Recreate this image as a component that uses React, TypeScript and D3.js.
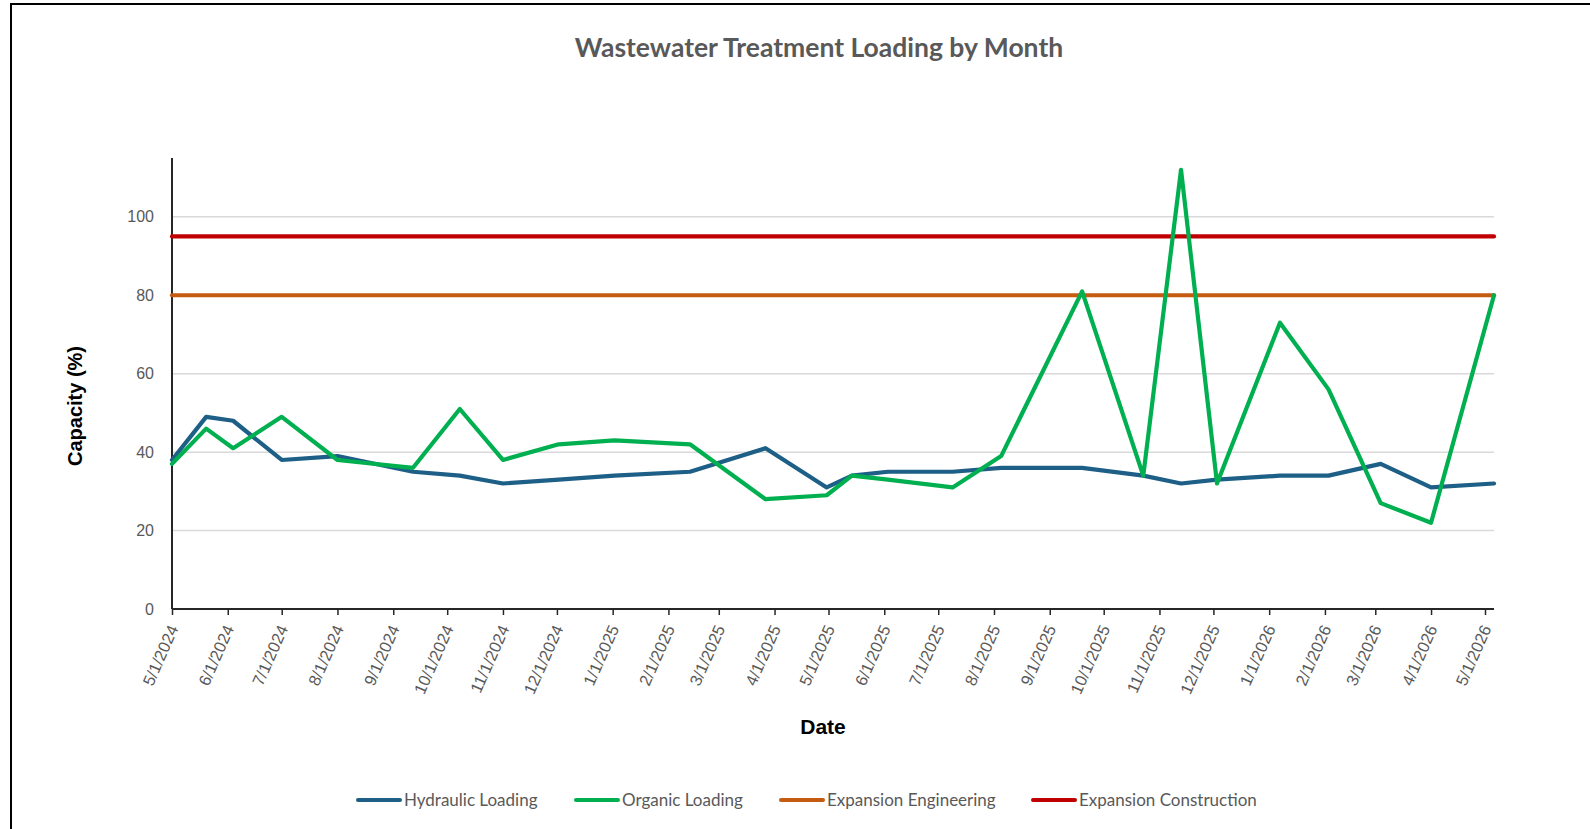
import React, { useEffect, useRef } from 'react';
import * as d3 from 'd3';

// sample dates (vertices of the lines)
const dates = [
  '2024-05-01', '2024-05-20', '2024-06-04', '2024-07-01', '2024-08-01', '2024-09-12',
  '2024-10-08', '2024-11-01', '2024-12-02', '2025-01-02', '2025-02-13', '2025-03-27',
  '2025-04-30', '2025-05-14', '2025-06-03', '2025-07-09', '2025-08-05', '2025-09-19',
  '2025-10-23', '2025-11-13', '2025-12-03', '2026-01-07', '2026-02-03', '2026-03-04',
  '2026-04-01', '2026-05-06',
];
const hydraulic = [38, 49, 48, 38, 39, 35, 34, 32, 33, 34, 35, 41, 31, 34, 35, 35, 36, 36, 34, 32, 33, 34, 34, 37, 31, 32];
const organic = [37, 46, 41, 49, 38, 36, 51, 38, 42, 43, 42, 28, 29, 34, 33, 31, 39, 81, 34, 112, 32, 73, 56, 27, 22, 80];
const engineering = [80, 80, 80, 80, 80, 80, 80, 80, 80, 80, 80, 80, 80, 80, 80, 80, 80, 80, 80, 80, 80, 80, 80, 80, 80, 80];
const construction = [95, 95, 95, 95, 95, 95, 95, 95, 95, 95, 95, 95, 95, 95, 95, 95, 95, 95, 95, 95, 95, 95, 95, 95, 95, 95];
const yTicks = [0, 20, 40, 60, 80, 100];

const seriesNames = ['Hydraulic Loading', 'Organic Loading', 'Expansion Engineering', 'Expansion Construction'];
const seriesColors = ['#1d5f86', '#00b050', '#c55a11', '#c00000'];

const W = 1590;
const H = 829;

export default function App() {
  const svgRef = useRef<SVGSVGElement | null>(null);

  useEffect(() => {
    const svg = d3.select(svgRef.current);
    svg.selectAll('*').remove();

    const margin = { top: 158, right: 96, bottom: 220, left: 172 };
    const width = W - margin.left - margin.right;
    const height = H - margin.top - margin.bottom;

    const parsed = dates.map((d) => d3.utcParse('%Y-%m-%d')(d) as Date);
    const x = d3
      .scaleUtc()
      .domain([parsed[0], parsed[parsed.length - 1]])
      .range([0, width]);
    const y = d3.scaleLinear().domain([0, 115]).range([height, 0]);

    // chart border (top + left visible)
    svg
      .append('path')
      .attr('d', `M11,${H} L11,4 L${W},4`)
      .attr('fill', 'none')
      .attr('stroke', '#000')
      .attr('stroke-width', 2);

    svg
      .append('text')
      .attr('x', 819)
      .attr('y', 57)
      .attr('text-anchor', 'middle')
      .style('font-family', 'Lato, sans-serif')
      .style('font-weight', 'bold')
      .style('font-size', '26.5px')
      .style('fill', '#595959')
      .text('Wastewater Treatment Loading by Month');

    const g = svg.append('g').attr('transform', `translate(${margin.left}, ${margin.top})`);

    // horizontal grid
    g.append('g')
      .selectAll('line')
      .data(yTicks.filter((t) => t > 0))
      .join('line')
      .attr('x1', 0)
      .attr('x2', width)
      .attr('y1', (d) => y(d))
      .attr('y2', (d) => y(d))
      .style('stroke', '#d9d9d9')
      .style('stroke-width', 1.5);

    // Y axis
    g.append('g')
      .call(d3.axisLeft(y).tickValues(yTicks).tickSize(0).tickPadding(18))
      .call((a) => a.select('.domain').remove())
      .call((a) =>
        a
          .selectAll('text')
          .style('font-family', '"Liberation Sans", Arial, sans-serif')
          .style('font-size', '16px')
          .style('fill', '#595959'),
      );
    g.append('line')
      .attr('x1', 0)
      .attr('x2', 0)
      .attr('y1', 0)
      .attr('y2', height)
      .style('stroke', '#262626')
      .style('stroke-width', 2);

    // X axis
    const months = d3.utcMonth.range(parsed[0], d3.utcDay.offset(parsed[parsed.length - 1], 1));
    const xAxis = g
      .append('g')
      .attr('transform', `translate(0, ${height})`)
      .call(
        d3
          .axisBottom(x)
          .tickValues(months)
          .tickSize(6)
          .tickFormat((d) => d3.utcFormat('%-m/%-d/%Y')(d as Date)),
      );
    xAxis.select('.domain').style('stroke', '#262626').style('stroke-width', 2).attr('d', `M0,0H${width}`);
    xAxis.selectAll('line').style('stroke', '#262626').style('stroke-width', 1.5);
    xAxis
      .selectAll('text')
      .attr('text-anchor', 'end')
      .attr('dy', '0.35em')
      .attr('transform', 'translate(1, 17) rotate(-66)')
      .attr('x', 0)
      .attr('y', 0)
      .style('font-family', '"Liberation Sans", Arial, sans-serif')
      .style('font-size', '16.5px')
      .style('fill', '#595959');

    // lines
    const allSeries = [hydraulic, organic, engineering, construction];
    const line = d3
      .line<number>()
      .x((_, i) => x(parsed[i]))
      .y((d) => y(d));
    [2, 3, 0, 1].forEach((k) => {
      g.append('path')
        .datum(allSeries[k])
        .attr('d', line)
        .attr('fill', 'none')
        .attr('stroke', seriesColors[k])
        .attr('stroke-width', 4.2)
        .attr('stroke-linejoin', 'round')
        .attr('stroke-linecap', 'round');
    });

    // axis titles
    svg
      .append('text')
      .attr('transform', `translate(82, 406) rotate(-90)`)
      .attr('text-anchor', 'middle')
      .style('font-family', '"Liberation Sans", Arial, sans-serif')
      .style('font-weight', 'bold')
      .style('font-size', '20px')
      .style('fill', '#000')
      .text('Capacity (%)');
    svg
      .append('text')
      .attr('x', 823)
      .attr('y', 734)
      .attr('text-anchor', 'middle')
      .style('font-family', '"Liberation Sans", Arial, sans-serif')
      .style('font-weight', 'bold')
      .style('font-size', '21px')
      .style('fill', '#000')
      .text('Date');

    // legend
    const legendX = [358, 576, 781, 1033];
    const legend = svg
      .append('g')
      .selectAll('g')
      .data(seriesNames)
      .join('g')
      .attr('transform', (_, i) => `translate(${legendX[i]}, 800)`);
    legend
      .append('line')
      .attr('x1', 0)
      .attr('x2', 42)
      .attr('y1', 0)
      .attr('y2', 0)
      .attr('stroke', (_, i) => seriesColors[i])
      .attr('stroke-width', 4)
      .attr('stroke-linecap', 'round');
    legend
      .append('text')
      .attr('x', 46)
      .attr('y', 0)
      .attr('dy', '0.35em')
      .style('font-family', 'Lato, sans-serif')
      .style('font-size', '17px')
      .style('fill', '#595959')
      .text((d) => d);
  }, []);

  return (
    <div style={{ position: 'absolute', left: 0, top: 0, width: W, height: H, background: '#fff' }}>
      <svg ref={svgRef} width={W} height={H} />
    </div>
  );
}
